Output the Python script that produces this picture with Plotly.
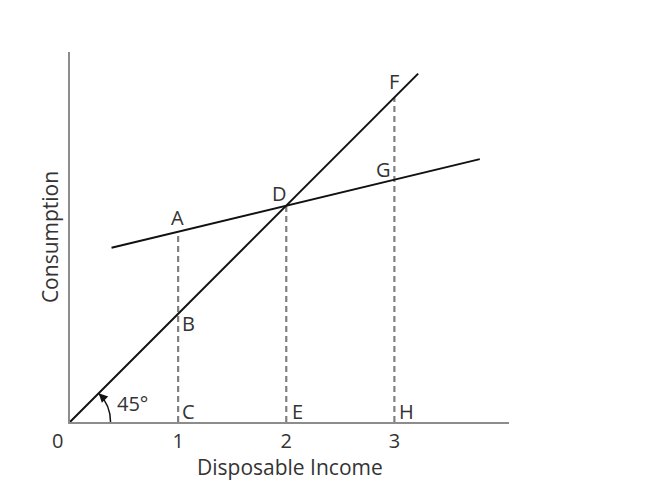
import numpy as np
import plotly.graph_objects as go

# values
income_ticks = [1, 2, 3]

diag_x = [0, 3.22]          # 45-degree line
diag_y = [0, 3.22]

cons_x = [0.384, 3.79]      # consumption function
cons_y = [1.61, 2.43]

point_names = ["A", "B", "C", "D", "E", "F", "G", "H"]
point_x = [1, 1, 1, 2, 2, 3, 3, 3]
point_y = [1.76, 1.0, 0, 2.0, 0, 3.0, 2.24, 0]

drop_x = [1, 2, 3]          # dashed verticals, from top point down to axis
drop_top = [1.76, 2.0, 3.0]

x_max = 4.06
y_max = 3.42

TEXT = "#333333"
FONT = "Open Sans"

fig = go.Figure()

for xv, top in zip(drop_x, drop_top):
    fig.add_trace(go.Scatter(
        x=[xv, xv], y=[0, top], mode="lines",
        line=dict(color="#808080", width=2.2, dash="6px,4px"),
        hoverinfo="skip", showlegend=False,
    ))

fig.add_trace(go.Scatter(
    x=diag_x, y=diag_y, mode="lines",
    line=dict(color="#111111", width=2), showlegend=False,
))
fig.add_trace(go.Scatter(
    x=cons_x, y=cons_y, mode="lines",
    line=dict(color="#111111", width=2), showlegend=False,
))

#
# point labels, pixel offsets of each letter from its point
label_shift = {
    "A": (-1, 14), "B": (10, -10), "C": (10, 11), "D": (-7, 12),
    "E": (11, 11), "F": (0, 16), "G": (-11, 10), "H": (12, 11),
}
for name, xv, yv in zip(point_names, point_x, point_y):
    dx, dy = label_shift[name]
    fig.add_annotation(
        x=xv, y=yv, text=name, showarrow=False,
        xanchor="center", yanchor="middle", xshift=dx, yshift=dy,
        font=dict(family=FONT, size=20, color=TEXT),
    )

#
# 45 degree arc with arrow
r = 0.375
k = 4 / 3 * np.tan(np.pi / 16) * r
c45 = np.cos(np.pi / 4)
p3 = (r * c45, r * c45)
p2 = (p3[0] + k * c45, p3[1] - k * c45)
fig.add_shape(
    type="path", xref="x", yref="y",
    path=f"M {r},0 C {r},{k} {p2[0]},{p2[1]} {p3[0]},{p3[1]}",
    line=dict(color="#111111", width=1.5),
)
fig.add_annotation(
    x=p3[0], y=p3[1], ax=p3[0] + 0.03, ay=p3[1] - 0.03,
    axref="x", ayref="y", text="", showarrow=True,
    arrowhead=2, arrowsize=1.2, arrowwidth=1.5, arrowcolor="#111111",
)
fig.add_annotation(
    x=0.58, y=0.17, text="45°", showarrow=False,
    font=dict(family=FONT, size=20, color=TEXT),
)
fig.add_annotation(
    x=0, y=0, text="0", showarrow=False, xshift=-13, yshift=-18,
    font=dict(family=FONT, size=20, color=TEXT),
)
#
# x title as an annotation (an axis title gets held inside the margin)
fig.add_annotation(
    x=0.5, y=0, xref="paper", yref="paper", text="Disposable Income",
    showarrow=False, xanchor="center", yanchor="middle", yshift=-45,
    borderpad=0,
    font=dict(family=FONT, size=21, color=TEXT),
)

# the page body adds 8px on the left and top, so the figure is drawn 8px smaller
fig.update_layout(
    width=645,
    height=473,
    margin=dict(l=62, r=144, t=44, b=59),
    paper_bgcolor="white",
    plot_bgcolor="white",
    showlegend=False,
    font=dict(family=FONT, color=TEXT),
)
fig.update_xaxes(
    range=[0, x_max], automargin=False,
    showline=True, linecolor="#8c8c8c", linewidth=2,
    showgrid=False, zeroline=False, ticks="",
    tickvals=income_ticks,
    tickfont=dict(family=FONT, size=20, color=TEXT),
)
fig.update_yaxes(
    range=[0, y_max], automargin=False,
    showline=True, linecolor="#8c8c8c", linewidth=2,
    showgrid=False, zeroline=False, ticks="", showticklabels=False,
    title=dict(text="Consumption", standoff=4,
               font=dict(family=FONT, size=21, color=TEXT)),
)

fig.write_html("out.html")
